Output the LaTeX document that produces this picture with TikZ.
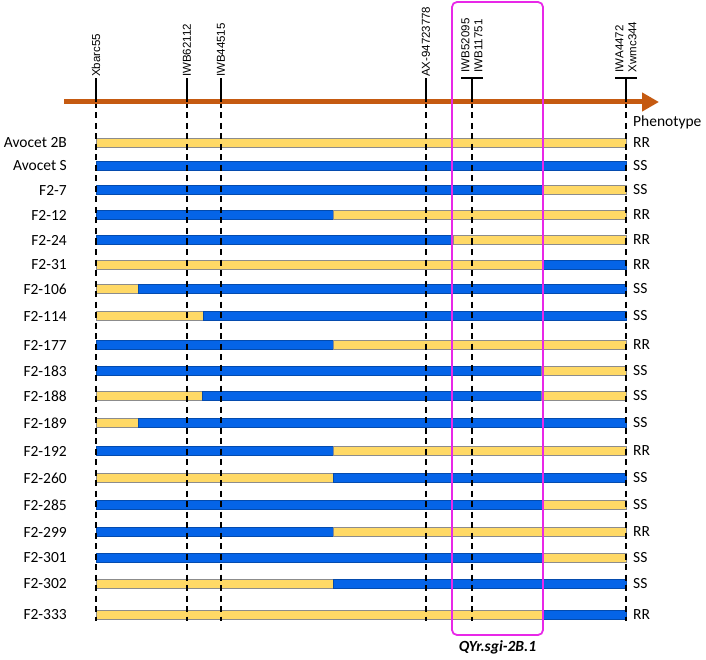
\documentclass[tikz,border=0pt]{standalone}
\usepackage{fontspec}
\setmainfont{Carlito}
\newfontfamily\markerfont{Liberation Sans}
\usetikzlibrary{arrows.meta,positioning}

\definecolor{chrorange}{RGB}{197,90,17}
\definecolor{allelesus}{RGB}{5,100,232}
\definecolor{alleleres}{RGB}{255,217,102}
\definecolor{qtlpink}{RGB}{232,40,232}

\tikzset{
  seg b/.style={fill=allelesus, draw=allelesus!75!black, line width=0.4pt},
  seg y/.style={fill=alleleres, draw=black!45, line width=0.4pt},
  mk label/.style={font=\markerfont\fontsize{11.5}{13}\selectfont, rotate=90,
    anchor=west, inner sep=0.5pt, align=left},
  mk tick/.style={line width=1.1pt},
  mk line/.style={line width=1.6pt, dash pattern=on 6pt off 4.5pt},
  line label/.style={anchor=east, inner sep=0pt, font=\fontsize{15.5}{18}\selectfont},
  pheno label/.style={anchor=west, inner sep=0pt, font=\fontsize{15.5}{18}\selectfont},
}

\begin{document}
\begin{tikzpicture}[x=1pt, y=-1pt]
    \useasboundingbox (0,0) rectangle (706,660);

    % Marker positions on the chromosome
    \coordinate (m1) at (96,102);
    \coordinate (m2) at (187,102);
    \coordinate (m3) at (221,102);
    \coordinate (m4) at (426,102);
    \coordinate (m5) at (472,102);
    \coordinate (m6) at (626,102);
    \coordinate (bottom) at (0,621);
    \coordinate (chrL) at (64,102);
    \coordinate (chrR) at (659,102);

    % Graphical genotypes of the lines
    \foreach \ypos/\name/\pheno/\segs [count=\i] in {
        143/Avocet 2B/RR/{y/96/626},
        166/Avocet S/SS/{b/96/626},
        190/F2-7/SS/{b/96/543, y/543/626},
        215/F2-12/RR/{b/96/333, y/333/626},
        240/F2-24/RR/{b/96/453, y/453/626},
        265/F2-31/RR/{y/96/543, b/543/626},
        289/F2-106/SS/{y/96/138, b/138/626},
        316/F2-114/SS/{y/96/203, b/203/626},
        345/F2-177/RR/{b/96/333, y/333/626},
        371/F2-183/SS/{b/96/541, y/541/626},
        396/F2-188/SS/{y/96/202, b/202/541, y/541/626},
        423/F2-189/SS/{y/96/138, b/138/626},
        451/F2-192/RR/{b/96/333, y/333/626},
        478/F2-260/SS/{y/96/333, b/333/626},
        505/F2-285/SS/{b/96/543, y/543/626},
        532/F2-299/RR/{b/96/333, y/333/626},
        558/F2-301/SS/{b/96/543, y/543/626},
        584/F2-302/SS/{y/96/333, b/333/626},
        615/F2-333/RR/{y/96/543, b/543/626}} {
      \node[line label] (line\i) at (67,\ypos) {\name};
      \foreach \c/\a/\b in \segs {
        \draw[seg \c] (\a,\ypos-4.5) rectangle (\b,\ypos+4.5);
      }
      \node[pheno label] (pheno\i) at (633,\ypos) {\pheno};
    }
    \node[pheno label] (phenotype) at (633,122) {Phenotype};

    % Dashed marker lines
    \foreach \m in {m1,m2,m3,m4,m5,m6}
      \draw[mk line] (\m) -- (\m |- bottom);

    % Chromosome
    \draw[chrorange, line width=5pt, -{Triangle[length=17pt, width=18pt]}] (chrL) -- (chrR);

    % Marker names
    \foreach \m/\txt in {m1/Xbarc55, m2/IWB62112, m3/IWB44515, m4/AX-94723778}
      \draw[mk tick] (\m) -- ++(0,-24) node[mk label] (\m name) {\txt};
    \foreach \m/\txt in {m5/{IWB52095\\IWB11751}, m6/{IWA4472\\Xwmc344}} {
      \draw[mk tick] (\m) -- ++(0,-24) coordinate (\m top);
      \draw[mk tick] ([xshift=-11pt]\m top) -- ([xshift=11pt]\m top);
      \node[mk label] (\m name) at ([yshift=5pt]\m top) {\txt};
    }

    % QTL interval
    \node[draw=qtlpink, line width=1.8pt, rounded corners=5pt, minimum width=91pt,
      minimum height=633pt, inner sep=0pt] (qtl) at (497.5,318.5) {};
    \node[below=5pt of qtl, inner sep=0pt, font=\fontsize{15.5}{18}\selectfont\bfseries\itshape] (qtlname) {QYr.sgi-2B.1};
\end{tikzpicture}
\end{document}
